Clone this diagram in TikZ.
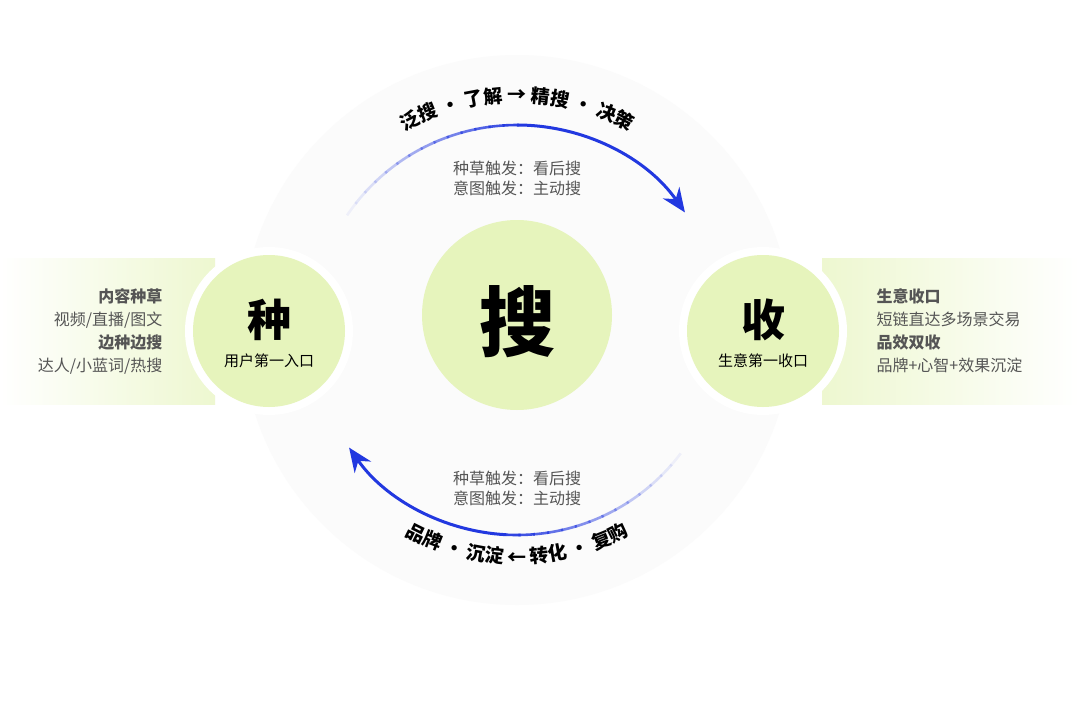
\documentclass[tikz,border=0pt]{standalone}
\usepackage{fontspec}
\setmainfont{Noto Sans CJK SC}
\usetikzlibrary{decorations.text,arrows.meta,shadings}
\definecolor{lg}{HTML}{E6F4BC}
\definecolor{ab}{HTML}{2238E0}
\definecolor{tg}{HTML}{555555}
\begin{document}
\begin{tikzpicture}[x=1pt,y=-1pt,
  bubble/.style={circle,fill=lg,inner sep=0pt},
  lab/.style={text=tg,font=\fontsize{16}{20}\selectfont,align=left},
  sidel/.style={font=\fontsize{16}{23}\selectfont,align=right,text=tg},
  sider/.style={font=\fontsize{16}{23}\selectfont,align=left,text=tg},
  fade/.style={ab,line width=2.6pt}]
\useasboundingbox (0,0) rectangle (1079,712);
\fill[white] (0,0) rectangle (1079,712);
% faint background disc
\fill[gray!3] (517,330) circle (275);
% side panels
\shade[left color=white,right color=lg!70] (0,258) rectangle (215,404);
\shade[left color=lg!70,right color=white] (822,258) rectangle (1079,404);
\fill[white] (269,331) circle (84);
\fill[white] (763,331) circle (84);
% bubbles
\node[bubble,minimum size=152pt] (zhong) at (269,331) {};
\node[bubble,minimum size=190pt] (sou) at (517,315) {};
\node[bubble,minimum size=152pt] (shou) at (763,331) {};
\node[font=\bfseries\fontsize{44}{44}\selectfont] (zt) at (269,320) {种};
\node[font=\fontsize{15}{15}\selectfont] (zs) at (269,361) {用户第一入口};
\node[font=\bfseries\fontsize{76}{76}\selectfont] (st) at (517,322) {搜};
\node[font=\bfseries\fontsize{44}{44}\selectfont] (sht) at (763,320) {收};
\node[font=\fontsize{15}{15}\selectfont] (shs) at (763,361) {生意第一收口};
% side texts
\node[sidel,anchor=east] (lt) at (166,331) {\textbf{内容种草}\\视频/直播/图文\\\textbf{边种边搜}\\达人/小蓝词/热搜};
\node[sider,anchor=west] (rt) at (873,331) {\textbf{生意收口}\\短链直达多场景交易\\\textbf{品效双收}\\品牌+心智+效果沉淀};
% top arrow with fade
\foreach \a/\o in {146/0.06,142/0.1,138/0.15,134/0.2,130/0.27,126/0.34,122/0.41,118/0.48,114/0.55,110/0.62,106/0.7,102/0.78,98/0.86,94/0.93}{
  \draw[fade,opacity=\o] (517,330) ++(\a:205 and -205) arc[start angle=\a,end angle=\a-4.6,x radius=205,y radius=-205];
}
\draw[fade,line width=3pt,-{Stealth[length=24pt,width=20pt]}] (517,330) ++(90:205 and -205) arc[start angle=90,end angle=35,x radius=205,y radius=-205];
% bottom arrow
\foreach \a/\o in {-37/0.06,-41/0.1,-45/0.15,-49/0.2,-53/0.27,-57/0.34,-61/0.41,-65/0.48,-69/0.55,-73/0.62,-77/0.7,-81/0.78,-85/0.86,-89/0.93}{
  \draw[fade,opacity=\o] (517,330) ++(\a:205 and -205) arc[start angle=\a,end angle=\a-4.6,x radius=205,y radius=-205];
}
\draw[fade,line width=3pt,-{Stealth[length=24pt,width=20pt]}] (517,330) ++(-93:205 and -205) arc[start angle=-93,end angle=-145,x radius=205,y radius=-205];
% arc texts
\path[decorate,decoration={text along path,text align=center,text={|\bfseries\fontsize{19}{19}\selectfont|泛搜 · 了解 → 精搜 · 决策}}]
  (517,330) ++(155:228 and -228) arc[start angle=155,end angle=25,x radius=228,y radius=-228];
\path[decorate,decoration={text along path,text align=center,text={|\bfseries\fontsize{19}{19}\selectfont|品牌 · 沉淀 ← 转化 · 复购}}]
  (517,330) ++(-150:234 and -234) arc[start angle=-150,end angle=-30,x radius=234,y radius=-234];
% inner labels
\node[lab] (t1) at (517,178) {种草触发：看后搜\\意图触发：主动搜};
\node[lab] (t2) at (517,488) {种草触发：看后搜\\意图触发：主动搜};
\end{tikzpicture}
\end{document}
